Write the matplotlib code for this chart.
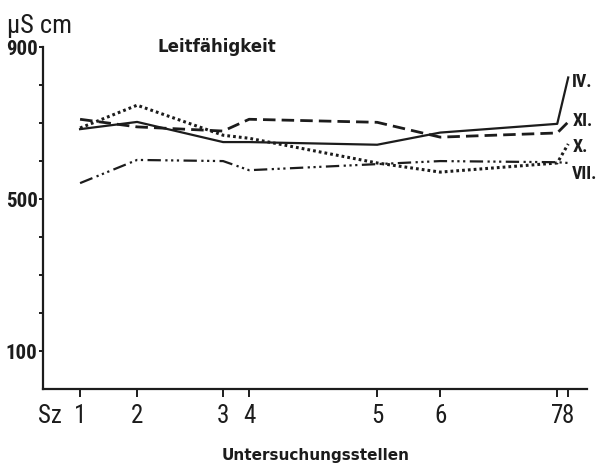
import matplotlib.pyplot as plt
from matplotlib import font_manager, transforms

# station positions along the stream (relative distance units)
station_pos = [3.7, 9.4, 18.0, 20.6, 33.4, 39.7, 51.4, 52.5]
station_labels = ["1", "2", "3", "4", "5", "6", "7", "8"]

# conductivity (uS/cm) per sampling month
iv_vals = [684, 703, 650, 650, 643, 675, 698, 820]
xi_vals = [710, 690, 679, 710, 702, 663, 674, 703]
x_vals = [687, 747, 668, 660, 595, 571, 595, 645]
vii_vals = [542, 603, 600, 576, 592, 600, 597, 595]

series_names = ["IV.", "XI.", "X.", "VII."]
label_y = [808, 705, 638, 566]

ink = "#1c1c1c"

names = {f.name for f in font_manager.fontManager.ttflist}
narrow = "DejaVu Sans"
for cand in ["Liberation Sans Narrow", "DejaVu Sans Condensed", "Roboto Condensed",
             "Open Sans Condensed"]:
    if cand in names:
        narrow = cand
        break

fig = plt.figure(figsize=(5.98, 4.66), dpi=100)
ax = fig.add_axes([0.072, 0.165, 0.91, 0.734])

ax.plot(station_pos, iv_vals, color=ink, lw=1.6, ls="-")
ax.plot(station_pos, xi_vals, color=ink, lw=2.0, ls=(0, (4.5, 2.2)))
ax.plot(station_pos, x_vals, color=ink, lw=2.2, ls=(0, (0.9, 1.0)))
ax.plot(station_pos, vii_vals, color=ink, lw=1.6,
        ls=(0, (6, 2, 1, 1.6, 1, 1.6, 1, 2)))

for name, yv in zip(series_names, label_y):
    ax.text(station_pos[-1] + 0.4, yv, name, fontsize=13, fontweight="bold",
            fontfamily=narrow, color=ink, va="center", ha="left")

ax.set_xlim(0, 54.4)
ax.set_ylim(0, 900)

ax.spines["top"].set_visible(False)
ax.spines["right"].set_visible(False)
for s in ("left", "bottom"):
    ax.spines[s].set_linewidth(1.6)
    ax.spines[s].set_color(ink)

ax.set_xticks(station_pos)
ax.set_xticklabels(station_labels, fontsize=18, fontfamily=narrow, color=ink)
ax.tick_params(axis="x", direction="out", length=6, width=1.4, pad=5, colors=ink)

ax.set_yticks([100, 500, 900])
ax.set_yticklabels(["100", "500", "900"], fontsize=15, fontweight="bold",
                   fontfamily=narrow, color=ink)
ax.set_yticks([200, 300, 400, 600, 700, 800], minor=True)
ax.tick_params(axis="y", which="both", direction="out", length=3, width=1.4,
               pad=1, colors=ink)

sz_trans = transforms.offset_copy(ax.get_xaxis_transform(), fig=fig,
                                  y=-11, units="points")
ax.text(0.7, 0, "Sz", transform=sz_trans, fontsize=18, fontfamily=narrow,
        color=ink, ha="center", va="top")

fig.text(0.012, 0.945, "\u03bcS cm", fontsize=19, fontfamily=narrow, color=ink,
         ha="left", va="center")
fig.text(0.263, 0.899, "Leitfähigkeit", fontsize=12, fontweight="bold",
         color=ink, ha="left", va="center")
ax.set_xlabel("Untersuchungsstellen", fontsize=11, fontweight="bold", color=ink,
              labelpad=14)

fig.savefig("out.png", dpi=100)
